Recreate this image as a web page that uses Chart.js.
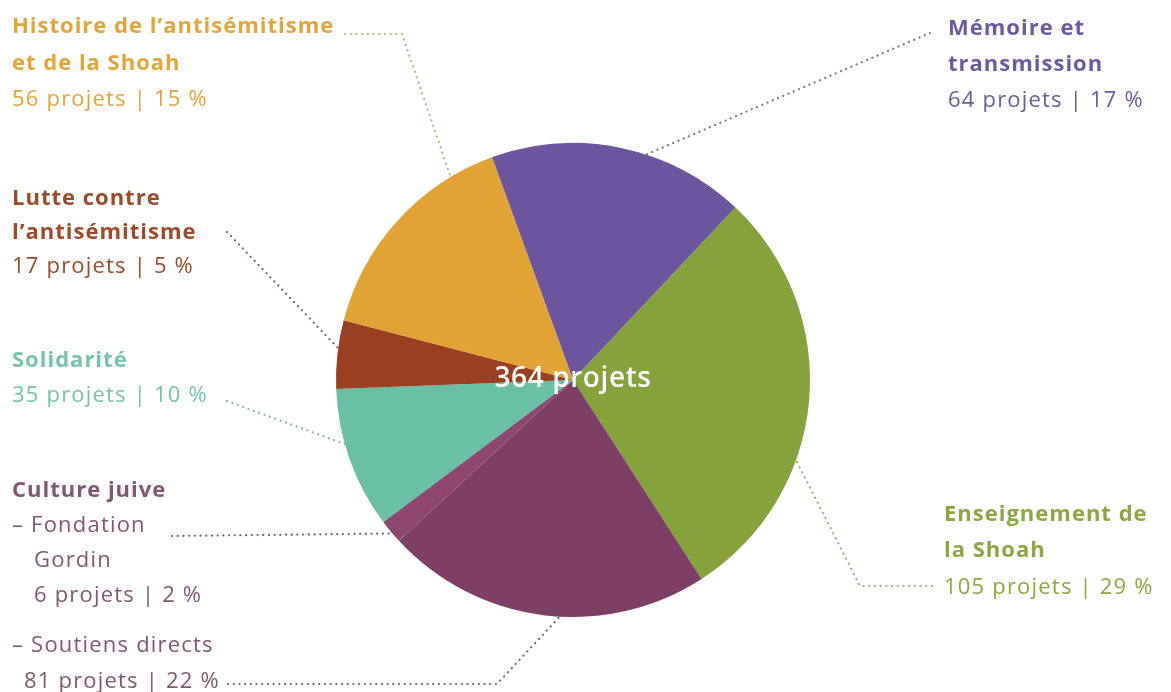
<!DOCTYPE html>
<html lang="fr">
<head>
<meta charset="utf-8">
<title>Répartition des projets</title>
<script src="https://cdn.jsdelivr.net/npm/chart.js@4.4.1/dist/chart.umd.min.js"></script>
<style>
  html, body { margin: 0; padding: 0; background: #ffffff; }
  #wrap { position: relative; width: 1171px; height: 692px; }
</style>
</head>
<body>
<div id="wrap"><canvas id="pie-chart" width="1171" height="692"></canvas></div>
<script>
// ---------------------------
// Data (clockwise from Mémoire)
// ---------------------------
const categories = [
  'Mémoire et transmission',
  'Enseignement de la Shoah',
  'Culture juive – Soutiens directs',
  'Culture juive – Fondation Gordin',
  'Solidarité',
  'Lutte contre l’antisémitisme',
  'Histoire de l’antisémitisme et de la Shoah'
];
const projects = [64, 105, 81, 6, 35, 17, 56];
const percents = [17, 29, 22, 2, 10, 5, 15];
const sliceColors = ['#6c559c', '#86a23c', '#7d3f66', '#8e4771', '#6ac0a5', '#9a3f22', '#e2a336'];

const FONT = '"Open Sans", "DejaVu Sans", sans-serif';

function countLine(i) {
  return projects[i] + ' projets | ' + percents[i] + ' %';
}

// callout layout: text lines + leader path (last point sits on the slice edge)
const callouts = [
  { index: 6, color: '#e3a53a', dot: '#c9a66e',
    lines: [[12, 33, 'Histoire de l’antisémitisme', true], [12, 70, 'et de la Shoah', true], [12, 106, countLine(6), false]],
    path: [[345, 34], [402, 34]], t: 0.80 },
  { index: 0, color: '#6d5a9e', dot: '#77729a',
    lines: [[948, 35, 'Mémoire et', true], [948, 71, 'transmission', true], [948, 107, countLine(0), false]],
    path: [[930, 33]], t: 0.60 },
  { index: 5, color: '#9c4a2c', dot: '#8d5c4e',
    lines: [[12, 205, 'Lutte contre', true], [12, 239, 'l’antisémitisme', true], [12, 273, countLine(5), false]],
    path: [[227, 232]], t: 0.59 },
  { index: 4, color: '#76c2ad', dot: '#86b4aa',
    lines: [[12, 367, 'Solidarité', true], [12, 402, countLine(4), false]],
    path: [[227, 401]], t: 0.61 },
  { index: 3, color: '#7f5873', dot: '#6a666a',
    lines: [[12, 497, 'Culture juive', true], [12, 532, '– Fondation', false], [34, 567, 'Gordin', false], [34, 602, countLine(3), false]],
    path: [[172, 536]], t: 0.40 },
  { index: 2, color: '#7f5873', dot: '#6a666a',
    lines: [[12, 652, '– Soutiens directs', false], [24, 688, countLine(2), false]],
    path: [[228, 684], [497, 684]], t: 0.45 },
  { index: 1, color: '#8aa83e', dot: '#a3a878',
    lines: [[944, 521, 'Enseignement de', true], [944, 557, 'la Shoah', true], [944, 594, countLine(1), false]],
    path: [[932, 586], [860, 586]], t: 0.64 }
];

const calloutPlugin = {
  id: 'callouts',
  afterDraw(chart) {
    const ctx = chart.ctx;
    const arcs = chart.getDatasetMeta(0).data;
    ctx.save();

    callouts.forEach(c => {
      const arc = arcs[c.index];
      const a = arc.startAngle + c.t * (arc.endAngle - arc.startAngle);
      const end = [arc.x + Math.cos(a) * arc.outerRadius, arc.y + Math.sin(a) * arc.outerRadius];
      const pts = c.path.concat([end]);

      ctx.strokeStyle = c.dot;
      ctx.lineWidth = 2.2;
      ctx.lineCap = 'round';
      ctx.setLineDash([0.1, 5.6]);
      ctx.beginPath();
      ctx.moveTo(pts[0][0], pts[0][1]);
      for (let k = 1; k < pts.length; k++) ctx.lineTo(pts[k][0], pts[k][1]);
      ctx.stroke();
      ctx.setLineDash([]);

      ctx.fillStyle = c.color;
      ctx.textAlign = 'left';
      ctx.textBaseline = 'alphabetic';
      c.lines.forEach(([x, y, txt, bold]) => {
        ctx.font = (bold ? '700 ' : '400 ') + '22px ' + FONT;
        ctx.letterSpacing = bold ? '1px' : '1.2px';
        ctx.fillText(txt, x, y);
      });
    });

    // total in the middle
    const first = arcs[0];
    const total = projects.reduce((s, v) => s + v, 0);
    ctx.fillStyle = '#ffffff';
    ctx.textAlign = 'center';
    ctx.textBaseline = 'alphabetic';
    ctx.font = '600 28px ' + FONT;
    ctx.letterSpacing = '0.6px';
    ctx.fillText(total + ' projets', first.x, first.y + 7);

    ctx.restore();
  }
};

new Chart(document.getElementById('pie-chart'), {
  type: 'pie',
  data: {
    labels: categories,
    datasets: [{
      data: projects,
      backgroundColor: sliceColors,
      borderWidth: 0
    }]
  },
  options: {
    responsive: false,
    animation: false,
    rotation: -20,
    layout: { padding: { top: 143, bottom: 75, left: 100, right: 125 } },
    plugins: {
      legend: { display: false },
      tooltip: { enabled: false }
    }
  },
  plugins: [calloutPlugin]
});
</script>
</body>
</html>
